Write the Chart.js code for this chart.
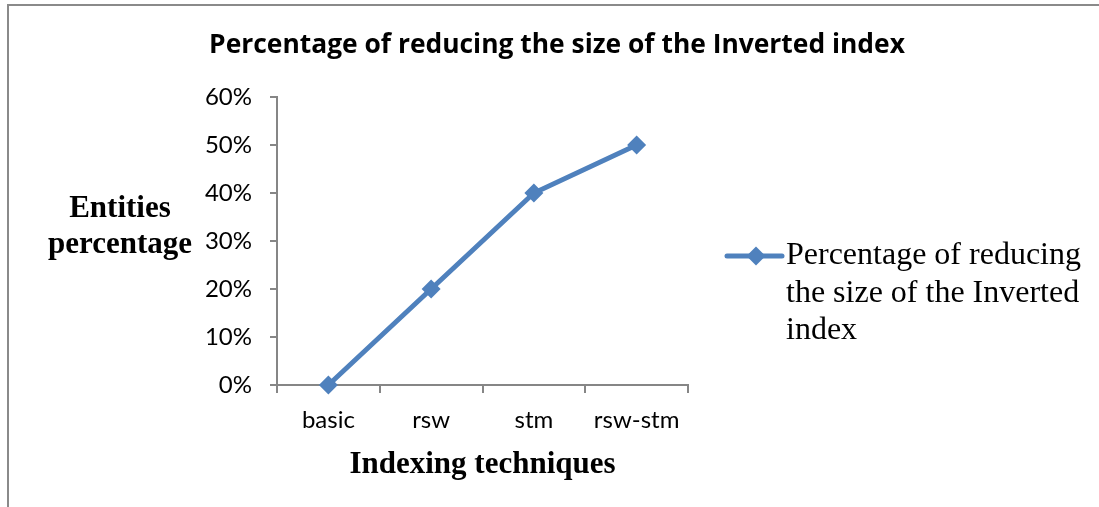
<!DOCTYPE html>
<html>
<head>
<meta charset="utf-8">
<script src="https://cdn.jsdelivr.net/npm/chart.js@4.4.1/dist/chart.umd.min.js"></script>
<style>
  html, body { margin: 0; padding: 0; background: #fff; }
  #wrap { width: 1099px; height: 507px; position: relative; }
</style>
</head>
<body>
<div id="wrap"><canvas id="chart"></canvas></div>
<script>
// chart data
const categories = ['basic', 'rsw', 'stm', 'rsw-stm'];
const reductionValues = [0, 0.20, 0.40, 0.50];
const chartTitle = 'Percentage of reducing the size of the Inverted index';
const seriesName = 'Percentage of reducing the size of the Inverted index';
const legendLines = ['Percentage of reducing', 'the size of the Inverted', 'index'];
const yTitleLines = ['Entities', 'percentage'];

const lineColor = '#4f81bd';
const axisColor = '#868686';

// frame around the chart (left and top edges only are visible)
const framePlugin = {
    id: 'frame',
    beforeDraw(chart) {
        const ctx = chart.ctx;
        ctx.save();
        ctx.strokeStyle = '#8a8a8a';
        ctx.lineWidth = 2;
        ctx.beginPath();
        ctx.moveTo(8, 507);
        ctx.lineTo(8, 5);
        ctx.lineTo(1099, 5);
        ctx.stroke();
        ctx.restore();
    }
};

// title, horizontal y axis title and wrapped legend
const extrasPlugin = {
    id: 'extras',
    afterDraw(chart) {
        const ctx = chart.ctx;
        const area = chart.chartArea;
        ctx.save();

        // chart title
        ctx.fillStyle = '#000';
        ctx.font = 'bold 26.4px "Open Sans"';
        ctx.textAlign = 'center';
        ctx.textBaseline = 'middle';
        ctx.fillText(chartTitle, 557, 45);

        // y axis title
        ctx.font = 'bold 31px "Liberation Serif"';
        yTitleLines.forEach((t, i) => {
            ctx.fillText(t, 120, 209 + i * 36);
        });

        // legend
        const lx = area.right + 39;
        const ly = 256;
        ctx.strokeStyle = lineColor;
        ctx.lineWidth = 5;
        ctx.lineCap = 'round';
        ctx.beginPath();
        ctx.moveTo(lx, ly);
        ctx.lineTo(lx + 55, ly);
        ctx.stroke();
        ctx.fillStyle = lineColor;
        ctx.beginPath();
        ctx.moveTo(lx + 29, ly - 9.5);
        ctx.lineTo(lx + 38.5, ly);
        ctx.lineTo(lx + 29, ly + 9.5);
        ctx.lineTo(lx + 19.5, ly);
        ctx.closePath();
        ctx.fill();

        ctx.fillStyle = '#000';
        ctx.font = '32px "Liberation Serif"';
        ctx.textAlign = 'left';
        legendLines.forEach((t, i) => {
            ctx.fillText(t, lx + 59, ly + i * 37.5);
        });
        ctx.restore();
    }
};

const chart = new Chart(document.getElementById('chart'), {
    type: 'line',
    data: {
        labels: categories,
        datasets: [{
            label: seriesName,
            data: reductionValues,
            borderColor: lineColor,
            backgroundColor: lineColor,
            borderWidth: 5,
            pointStyle: 'rectRot',
            pointRadius: 9.5,
            pointHoverRadius: 9.5,
            pointBorderWidth: 0,
            tension: 0,
            clip: false
        }]
    },
    options: {
        responsive: true,
        maintainAspectRatio: false,
        animation: false,
        layout: {
            padding: { left: 0, right: 411, top: 97, bottom: 0 }
        },
        plugins: {
            legend: { display: false },
            tooltip: { enabled: false },
            title: { display: false }
        },
        scales: {
            x: {
                offset: true,
                afterFit(scale) { scale.height = 122; },
                grid: {
                    offset: true,
                    drawOnChartArea: false,
                    drawTicks: true,
                    tickLength: 8,
                    color: axisColor,
                    lineWidth: 2
                },
                border: { display: true, color: axisColor, width: 2 },
                ticks: {
                    color: '#000',
                    padding: 13,
                    font: { family: 'Lato', size: 24 }
                },
                title: {
                    display: true,
                    text: 'Indexing techniques',
                    color: '#000',
                    font: { family: 'Liberation Serif', size: 31, weight: 'bold' },
                    padding: { top: 0, bottom: 23 }
                }
            },
            y: {
                min: 0,
                max: 0.6,
                afterFit(scale) { scale.width = 277; },
                grid: {
                    drawOnChartArea: false,
                    drawTicks: true,
                    tickLength: 7,
                    color: axisColor,
                    lineWidth: 2
                },
                border: { display: true, color: axisColor, width: 2 },
                ticks: {
                    stepSize: 0.1,
                    color: '#000',
                    padding: 18,
                    font: { family: 'Lato', size: 24 },
                    callback: v => Math.round(v * 100) + '%'
                }
            }
        }
    },
    plugins: [framePlugin, extrasPlugin]
});
</script>
</body>
</html>
